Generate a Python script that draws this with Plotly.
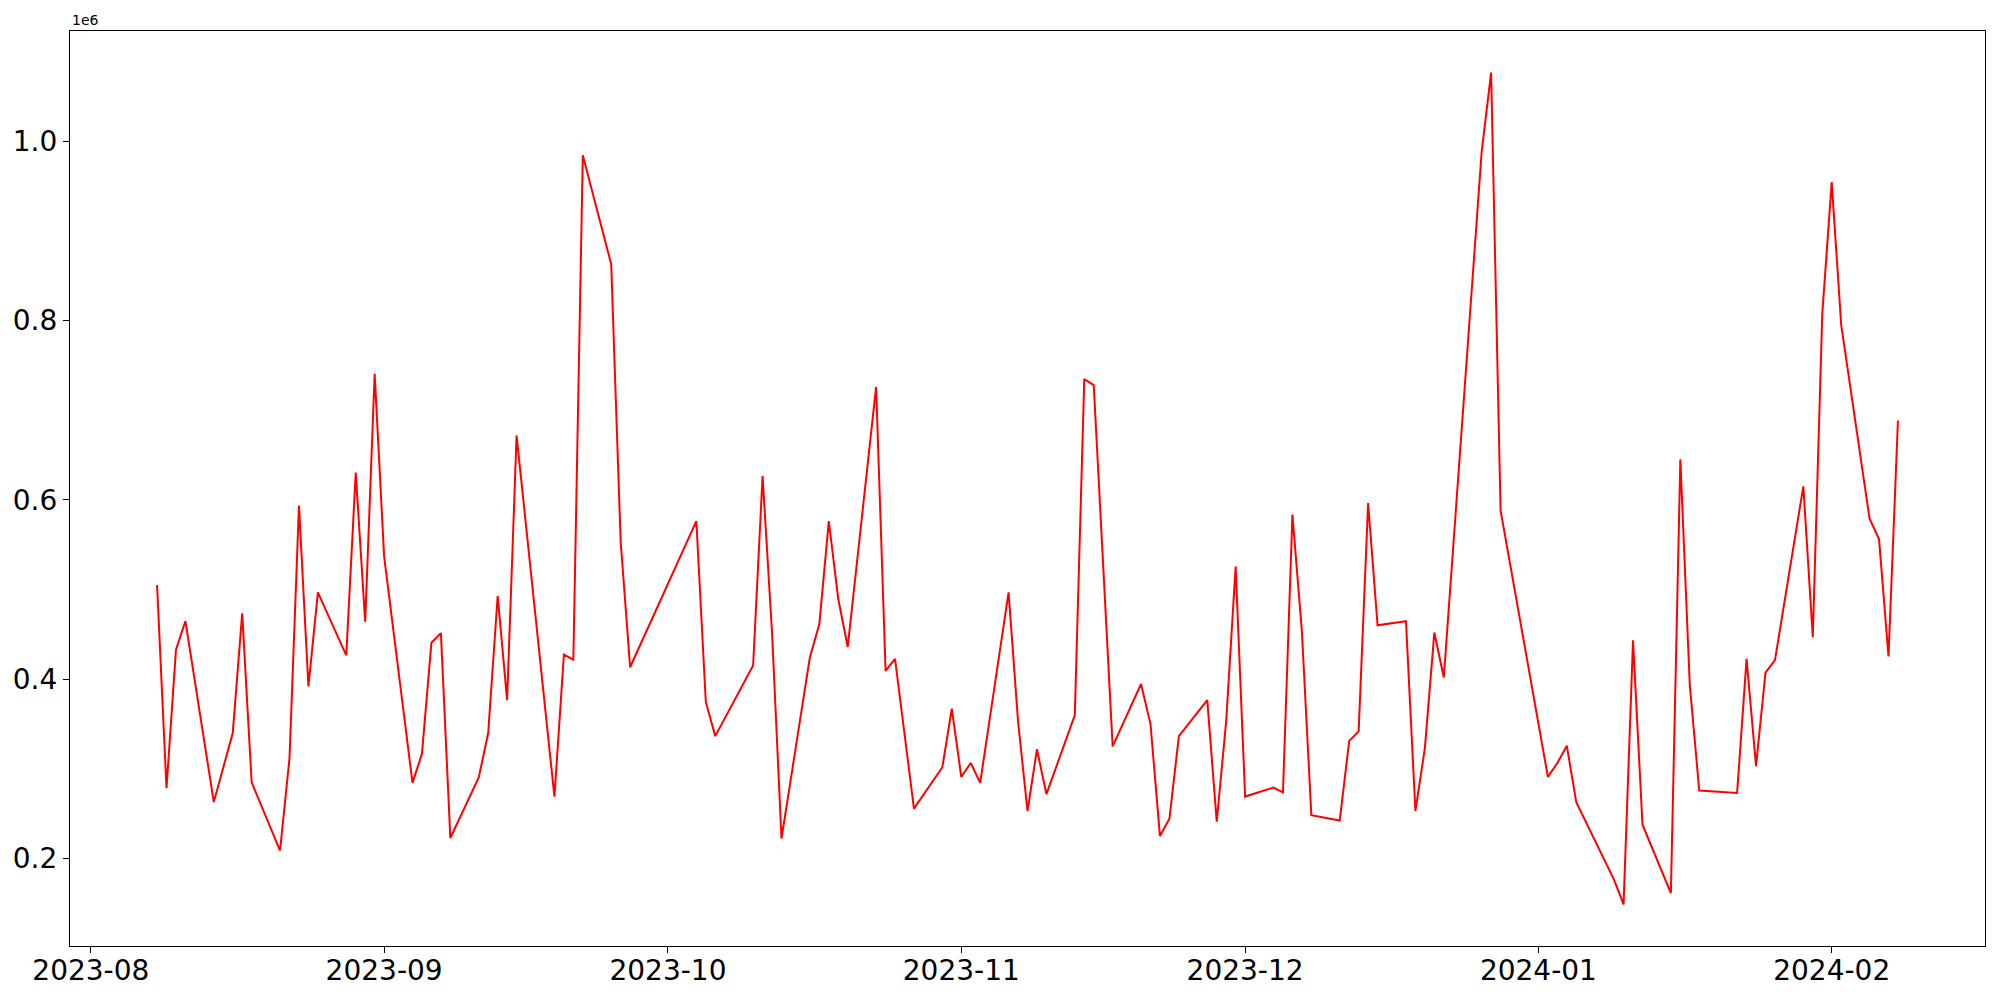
import plotly.graph_objects as go

dates = [
    "2023-08-08", "2023-08-09", "2023-08-10", "2023-08-11", "2023-08-14", "2023-08-16", "2023-08-17", "2023-08-18",
    "2023-08-21", "2023-08-22", "2023-08-23", "2023-08-24", "2023-08-25", "2023-08-28", "2023-08-29", "2023-08-30",
    "2023-08-31", "2023-09-01", "2023-09-04", "2023-09-05", "2023-09-06", "2023-09-07", "2023-09-08", "2023-09-11",
    "2023-09-12", "2023-09-13", "2023-09-14", "2023-09-15", "2023-09-19", "2023-09-20", "2023-09-21", "2023-09-22",
    "2023-09-25", "2023-09-26", "2023-09-27", "2023-10-04", "2023-10-05", "2023-10-06", "2023-10-10", "2023-10-11",
    "2023-10-12", "2023-10-13", "2023-10-16", "2023-10-17", "2023-10-18", "2023-10-19", "2023-10-20", "2023-10-23",
    "2023-10-24", "2023-10-25", "2023-10-27", "2023-10-30", "2023-10-31", "2023-11-01", "2023-11-02", "2023-11-03",
    "2023-11-06", "2023-11-07", "2023-11-08", "2023-11-09", "2023-11-10", "2023-11-13", "2023-11-14", "2023-11-15",
    "2023-11-17", "2023-11-20", "2023-11-21", "2023-11-22", "2023-11-23", "2023-11-24", "2023-11-27", "2023-11-28",
    "2023-11-29", "2023-11-30", "2023-12-01", "2023-12-04", "2023-12-05", "2023-12-06", "2023-12-07", "2023-12-08",
    "2023-12-11", "2023-12-12", "2023-12-13", "2023-12-14", "2023-12-15", "2023-12-18", "2023-12-19", "2023-12-20",
    "2023-12-21", "2023-12-22", "2023-12-26", "2023-12-27", "2023-12-28", "2024-01-02", "2024-01-03", "2024-01-04",
    "2024-01-05", "2024-01-09", "2024-01-10", "2024-01-11", "2024-01-12", "2024-01-15", "2024-01-16", "2024-01-17",
    "2024-01-18", "2024-01-22", "2024-01-23", "2024-01-24", "2024-01-25", "2024-01-26", "2024-01-29", "2024-01-30",
    "2024-01-31", "2024-02-01", "2024-02-02", "2024-02-05", "2024-02-06", "2024-02-07", "2024-02-08",
]

values = [
    505000, 278500, 433000, 464800, 263000, 340000, 473500, 285000,
    209000, 312000, 593700, 392000, 497000, 426700, 630500, 464200,
    740700, 537000, 284500, 317000, 440800, 451500, 223000, 290500,
    340000, 492900, 376700, 671900, 269000, 427400, 422000, 984400,
    862900, 553700, 413400, 576400, 374700, 336600, 415400, 626500,
    452000, 222400, 424700, 461500, 576400, 489500, 436000, 726000,
    409400, 422800, 255800, 301900, 367300, 291200, 306600, 284500,
    496900, 353300, 253100, 321900, 271800, 360000, 734700, 728000,
    325200, 394700, 350000, 225100, 244400, 336600, 376700, 241100,
    353300, 525600, 269200, 279200, 273800, 583700, 453500, 248400,
    242400, 331300, 341900, 596400, 460200, 464800, 253100, 323200,
    452100, 402000, 987800, 1076600, 588400, 291200, 306600, 325900,
    263000, 176300, 148900, 443500, 237800, 161600, 645200, 393400,
    275800, 273200, 422800, 303200, 407400, 421400, 615100, 446800,
    807400, 954400, 795400, 579000, 556300, 425400, 688600,
]

y_tick_values = [200000, 400000, 600000, 800000, 1000000]
y_tick_labels = ["0.2", "0.4", "0.6", "0.8", "1.0"]
x_range = ["2023-07-29 19:12", "2024-02-17 04:48"]

vmin, vmax = min(values), max(values)
pad = 0.05 * (vmax - vmin)

fig = go.Figure(
    go.Scatter(x=dates, y=values, mode="lines", line=dict(color="#ff0000", width=2))
)

axis_common = dict(
    showline=True, mirror=True, linecolor="black", linewidth=1.2,
    showgrid=False, zeroline=False, ticks="outside", ticklen=6, tickwidth=1.2,
    tickcolor="black", tickfont=dict(family="DejaVu Sans", size=28, color="black"),
    automargin=False,
)

fig.update_layout(
    width=2000, height=1000,
    paper_bgcolor="white", plot_bgcolor="white",
    margin=dict(l=70, r=15, t=31, b=54),
    showlegend=False,
    xaxis=dict(range=x_range, tickformat="%Y-%m", dtick="M1", tick0="2023-08-01",
               ticklabelstandoff=-7, **axis_common),
    yaxis=dict(range=[vmin - pad, vmax + pad], tickvals=y_tick_values, ticktext=y_tick_labels, **axis_common),
    annotations=[dict(text="1e6", xref="paper", yref="paper", x=0, y=1, xanchor="left", yanchor="bottom",
                      showarrow=False, yshift=1, font=dict(family="DejaVu Sans", size=14, color="black"))],
)

fig.write_html(
    "out.html",
    config={"displayModeBar": False},
    post_script="document.body.style.margin='0px';document.body.style.overflow='hidden';",
)
